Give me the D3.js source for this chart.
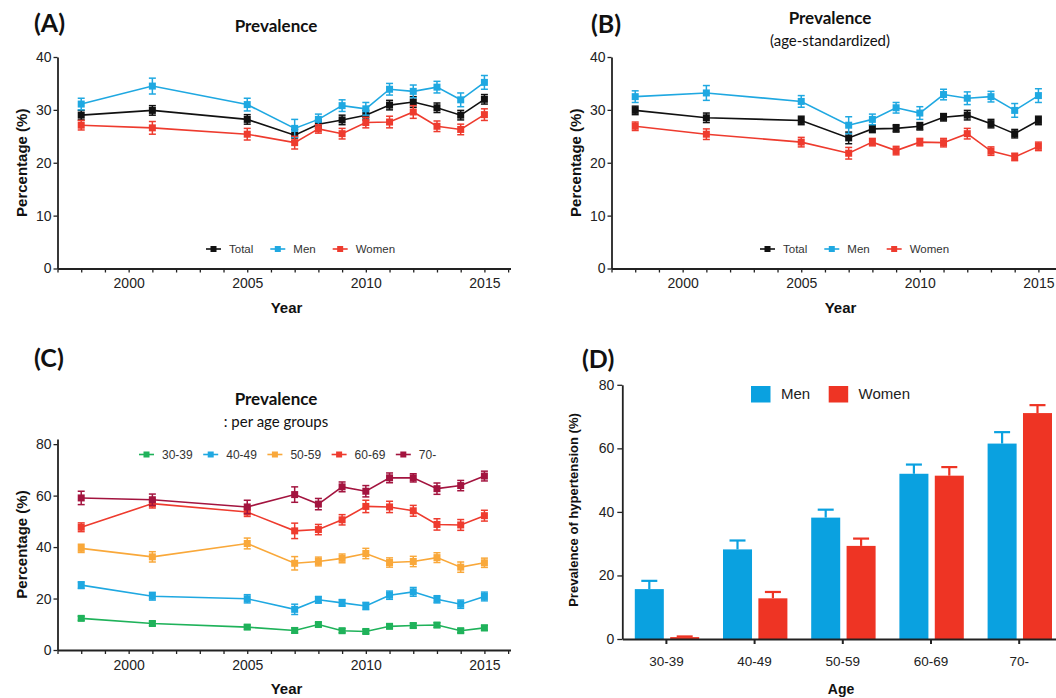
<!DOCTYPE html>
<html>
<head>
<meta charset="utf-8">
<script src="https://cdn.jsdelivr.net/npm/d3@7"></script>
<style>
body { margin: 0; background: #fff; }
</style>
</head>
<body>
<svg id="chart" width="1056" height="698"></svg>
<script>
// survey years
const years = [1998, 2001, 2005, 2007, 2008, 2009, 2010, 2011, 2012, 2013, 2014, 2015];

// (A) crude prevalence
const crudeTotal = [29.0, 29.9, 28.2, 25.2, 27.3, 28.1, 29.0, 30.9, 31.5, 30.4, 29.0, 32.0];
const crudeTotalErr = [0.9, 0.9, 0.9, 1.1, 0.8, 0.9, 0.9, 0.9, 1.0, 0.9, 0.9, 0.9];
const crudeMen = [31.1, 34.5, 31.0, 26.5, 28.2, 30.8, 30.2, 33.9, 33.5, 34.3, 31.9, 35.2];
const crudeMenErr = [1.1, 1.5, 1.2, 1.7, 1.0, 1.1, 1.2, 1.1, 1.2, 1.1, 1.3, 1.3];
const crudeWomen = [27.1, 26.6, 25.4, 23.8, 26.4, 25.5, 27.6, 27.7, 29.6, 26.9, 26.3, 29.1];
const crudeWomenErr = [0.9, 1.2, 1.1, 1.2, 0.8, 1.0, 1.0, 1.1, 1.2, 1.0, 1.0, 1.1];

// (B) age-standardized prevalence
const stdTotal = [29.9, 28.5, 28.0, 24.7, 26.4, 26.5, 26.9, 28.6, 29.0, 27.4, 25.5, 28.0];
const stdTotalErr = [0.8, 0.9, 0.8, 1.1, 0.7, 0.7, 0.7, 0.7, 0.9, 0.8, 0.8, 0.8];
const stdMen = [32.5, 33.2, 31.6, 27.1, 28.2, 30.4, 29.4, 32.9, 32.2, 32.5, 29.9, 32.7];
const stdMenErr = [1.1, 1.4, 1.1, 1.6, 1.0, 1.0, 1.2, 1.0, 1.2, 1.0, 1.3, 1.3];
const stdWomen = [26.9, 25.4, 23.9, 21.8, 23.9, 22.3, 23.9, 23.8, 25.5, 22.2, 21.1, 23.1];
const stdWomenErr = [0.8, 1.0, 0.9, 1.1, 0.7, 0.8, 0.7, 0.8, 1.0, 0.8, 0.7, 0.8];

// (C) prevalence per age group
const ageGroups = ["30-39", "40-49", "50-59", "60-69", "70-"];
const age30 = [12.3, 10.3, 8.9, 7.6, 9.9, 7.5, 7.2, 9.2, 9.5, 9.7, 7.5, 8.6];
const age30Err = [0.8, 0.8, 0.8, 1.0, 0.8, 0.8, 0.8, 0.8, 0.9, 0.9, 0.8, 1.0];
const age40 = [25.2, 20.9, 19.9, 15.8, 19.5, 18.3, 17.1, 21.3, 22.6, 19.7, 17.8, 20.8];
const age40Err = [1.3, 1.5, 1.6, 2.0, 1.3, 1.3, 1.4, 1.6, 1.7, 1.4, 1.6, 1.7];
const age50 = [39.5, 36.2, 41.4, 33.7, 34.4, 35.6, 37.5, 34.0, 34.4, 35.9, 32.2, 33.9];
const age50Err = [1.6, 2.0, 2.1, 2.6, 1.7, 1.7, 2.0, 1.8, 2.0, 1.9, 2.0, 1.8];
const age60 = [47.7, 56.9, 53.6, 46.3, 46.8, 50.6, 55.8, 55.6, 54.1, 48.8, 48.6, 52.2];
const age60Err = [1.7, 1.7, 1.7, 3.0, 2.0, 2.0, 2.4, 2.2, 2.1, 2.2, 2.1, 2.1];
const age70 = [59.1, 58.4, 55.6, 60.4, 56.7, 63.4, 61.7, 66.9, 66.9, 62.7, 63.9, 67.6];
const age70Err = [2.6, 2.2, 2.6, 3.0, 2.2, 1.9, 2.2, 1.9, 1.6, 2.2, 2.0, 1.9];

// (D) prevalence of hypertension by age and sex
const barMen = [15.7, 28.2, 38.2, 52.0, 61.5];
const barMenErr = [2.6, 2.8, 2.5, 2.9, 3.6];
const barWomen = [0.6, 12.8, 29.3, 51.4, 71.1];
const barWomenErr = [0.2, 2.0, 2.3, 2.7, 2.5];

const BLACK = "#111", BLUE = "#1fa8e1", RED = "#ee3b2e";
const SANS = "'Liberation Sans', Arial, Helvetica, sans-serif";
const TITLE = "Lato, 'Open Sans', sans-serif";
const svg = d3.select("#chart");

function fixText(sel, size) {
    sel.style("font-family", SANS).attr("font-size", size).attr("fill", "#222");
}

function yearAxis(g, x, yPos) {
    const ax = d3.axisBottom(x)
        .tickValues(d3.range(1997, 2017))
        .tickFormat(d => d % 5 === 0 ? d : "")
        .tickSize(4).tickSizeOuter(0).tickPadding(6);
    const a = g.append("g").attr("transform", "translate(0," + yPos + ")").call(ax);
    a.select(".domain").attr("stroke", "#222").attr("stroke-width", 1.8);
    a.selectAll(".tick line").attr("stroke", "#222").attr("stroke-width", 1.3);
    fixText(a.selectAll("text"), 14);
    return a;
}

function valueAxis(g, y, xPos, ticks) {
    const ax = d3.axisLeft(y).tickValues(ticks).tickSize(4).tickSizeOuter(0).tickPadding(2);
    const a = g.append("g").attr("transform", "translate(" + xPos + ",0)").call(ax);
    a.select(".domain").attr("stroke", "#222").attr("stroke-width", 1.8);
    a.selectAll(".tick line").attr("stroke", "#222").attr("stroke-width", 1.3);
    fixText(a.selectAll("text"), 14);
    return a;
}

function drawSeries(g, x, y, s) {
    const pts = years.map((yr, i) => ({ yr: yr, v: s.values[i], e: s.errs[i] }));
    const line = d3.line().x(d => x(d.yr)).y(d => y(d.v));
    g.append("path").datum(pts)
        .attr("fill", "none").attr("stroke", s.color).attr("stroke-width", 1.6)
        .attr("d", line);
    const eb = g.append("g").selectAll("g").data(pts).enter().append("g")
        .attr("stroke", s.color).attr("stroke-width", 1.5);
    eb.append("line")
        .attr("x1", d => x(d.yr)).attr("x2", d => x(d.yr))
        .attr("y1", d => y(d.v - d.e)).attr("y2", d => y(d.v + d.e));
    eb.append("line")
        .attr("x1", d => x(d.yr) - 3.5).attr("x2", d => x(d.yr) + 3.5)
        .attr("y1", d => y(d.v + d.e)).attr("y2", d => y(d.v + d.e));
    eb.append("line")
        .attr("x1", d => x(d.yr) - 3.5).attr("x2", d => x(d.yr) + 3.5)
        .attr("y1", d => y(d.v - d.e)).attr("y2", d => y(d.v - d.e));
    g.append("g").selectAll("rect").data(pts).enter().append("rect")
        .attr("x", d => x(d.yr) - 3.5).attr("y", d => y(d.v) - 3.5)
        .attr("width", 7).attr("height", 7)
        .attr("fill", s.color);
}

function drawLegend(g, items, x0, yPos, fontSize, gap) {
    let cx = x0;
    items.forEach(s => {
        g.append("line")
            .attr("x1", cx).attr("x2", cx + 15).attr("y1", yPos).attr("y2", yPos)
            .attr("stroke", s.color).attr("stroke-width", 1.6);
        g.append("rect")
            .attr("x", cx + 4.5).attr("y", yPos - 3).attr("width", 6).attr("height", 6)
            .attr("fill", s.color);
        const t = g.append("text")
            .attr("x", cx + 23).attr("y", yPos).attr("dy", "0.35em")
            .style("font-family", SANS)
            .attr("font-size", fontSize).attr("fill", "#333")
            .text(s.name);
        cx = cx + 23 + t.node().getComputedTextLength() + gap;
    });
}

function axisTitle(g, txt, size) {
    return g.append("text")
        .style("font-family", SANS).attr("font-weight", "bold")
        .attr("text-anchor", "middle").attr("font-size", size).attr("fill", "#111")
        .text(txt);
}

function linePanel(cfg) {
    const g = svg.append("g");
    const x = d3.scaleLinear().domain([1997, 2016.1]).range([cfg.left, cfg.left + 453]);
    const y = d3.scaleLinear().domain(cfg.yDomain).range(cfg.yRange);
    valueAxis(g, y, cfg.left, cfg.yTicks);
    yearAxis(g, x, cfg.yRange[0]);
    cfg.series.forEach(s => drawSeries(g, x, y, s));
    drawLegend(g, cfg.series, cfg.legendX, cfg.legendY, cfg.legendFont, cfg.legendGap);

    axisTitle(g, "Percentage (%)", 15)
        .attr("transform", "translate(" + (cfg.left - 31) + "," + ((cfg.yRange[0] + cfg.yRange[1]) / 2) + ") rotate(-90)");
    axisTitle(g, "Year", 15)
        .attr("x", cfg.left + 229).attr("y", cfg.yRange[0] + 44);
    return g;
}

// ---- (A)
linePanel({
    left: 57.5, yDomain: [0, 40], yRange: [268.5, 57], yTicks: [0, 10, 20, 30, 40],
    legendX: 206, legendY: 249, legendFont: 11.5, legendGap: 17,
    series: [
        { name: "Total", values: crudeTotal, errs: crudeTotalErr, color: BLACK },
        { name: "Men", values: crudeMen, errs: crudeMenErr, color: BLUE },
        { name: "Women", values: crudeWomen, errs: crudeWomenErr, color: RED }
    ]
});

// ---- (B)
linePanel({
    left: 611.5, yDomain: [0, 40], yRange: [268.5, 57], yTicks: [0, 10, 20, 30, 40],
    legendX: 760, legendY: 249, legendFont: 11.5, legendGap: 17,
    series: [
        { name: "Total", values: stdTotal, errs: stdTotalErr, color: BLACK },
        { name: "Men", values: stdMen, errs: stdMenErr, color: BLUE },
        { name: "Women", values: stdWomen, errs: stdWomenErr, color: RED }
    ]
});

// ---- (C)
linePanel({
    left: 57.5, yDomain: [0, 82], yRange: [650, 439], yTicks: [0, 20, 40, 60, 80],
    legendX: 139, legendY: 454.5, legendFont: 12, legendGap: 10.5,
    series: [
        { name: ageGroups[0], values: age30, errs: age30Err, color: "#1fb25a" },
        { name: ageGroups[1], values: age40, errs: age40Err, color: BLUE },
        { name: ageGroups[2], values: age50, errs: age50Err, color: "#f9a83a" },
        { name: ageGroups[3], values: age60, errs: age60Err, color: RED },
        { name: ageGroups[4], values: age70, errs: age70Err, color: "#a3143f" }
    ]
});

// ---- (D) bars
(function () {
    const g = svg.append("g");
    const left = 622.3, bottom = 639;
    const x = d3.scaleBand().domain(ageGroups).range([left, left + 5 * 88.2]);
    const sex = d3.scaleBand().domain(["Men", "Women"]).range([-31.6, 32.8]).paddingInner(0.18);
    const y = d3.scaleLinear().domain([0, 80]).range([bottom, 384.8]);
    const barColor = { Men: "#0aa1e0", Women: "#ee3424" };

    const rows = [];
    ageGroups.forEach((a, i) => {
        rows.push({ age: a, sex: "Men", v: barMen[i], e: barMenErr[i] });
        rows.push({ age: a, sex: "Women", v: barWomen[i], e: barWomenErr[i] });
    });
    const cx = d => x(d.age) + x.bandwidth() / 2 + sex(d.sex);

    const eb = g.append("g").selectAll("g").data(rows).enter().append("g")
        .attr("stroke", d => barColor[d.sex]).attr("stroke-width", 2.2);
    eb.append("line")
        .attr("x1", d => cx(d) + sex.bandwidth() / 2).attr("x2", d => cx(d) + sex.bandwidth() / 2)
        .attr("y1", d => y(d.v)).attr("y2", d => y(d.v + d.e));
    eb.append("line")
        .attr("x1", d => cx(d) + sex.bandwidth() / 2 - 8).attr("x2", d => cx(d) + sex.bandwidth() / 2 + 8)
        .attr("y1", d => y(d.v + d.e)).attr("y2", d => y(d.v + d.e));

    g.append("g").selectAll("rect").data(rows).enter().append("rect")
        .attr("x", d => cx(d)).attr("width", sex.bandwidth())
        .attr("y", d => y(d.v)).attr("height", d => bottom - y(d.v))
        .attr("fill", d => barColor[d.sex]);

    const ya = d3.axisLeft(y).tickValues([0, 20, 40, 60, 80]).tickSize(5).tickSizeOuter(0).tickPadding(3);
    const ay = g.append("g").attr("transform", "translate(" + left + ",0)").call(ya);
    ay.select(".domain").attr("stroke", "#222").attr("stroke-width", 1.8);
    ay.selectAll(".tick line").attr("stroke", "#222").attr("stroke-width", 1.3);
    fixText(ay.selectAll("text"), 14);

    const xa = d3.axisBottom(x).tickSize(5).tickSizeOuter(0).tickPadding(12);
    const ax = g.append("g").attr("transform", "translate(0," + bottom + ")").call(xa);
    ax.select(".domain").attr("stroke", "#222").attr("stroke-width", 1.8);
    ax.selectAll(".tick line").attr("stroke", "#222").attr("stroke-width", 2);
    fixText(ax.selectAll("text"), 13.5);

    // legend
    const leg = [["Men", 751, 781], ["Women", 828.7, 858.6]];
    leg.forEach(l => {
        g.append("rect").attr("x", l[1]).attr("y", 386).attr("width", 19.5).attr("height", 16.5)
            .attr("fill", barColor[l[0]]);
        g.append("text").attr("x", l[2]).attr("y", 394).attr("dy", "0.35em")
            .style("font-family", SANS)
            .attr("font-size", 15).attr("fill", "#222").text(l[0]);
    });

    axisTitle(g, "Prevalence of hypertension (%)", 13)
        .attr("transform", "translate(573.5,510) rotate(-90)").attr("dy", "0.35em");
    axisTitle(g, "Age", 14).attr("x", 841).attr("y", 694);
})();

// ---- titles and panel letters
const titles = [
    { t: "(A)", x: 34, y: 32, size: 25, anchor: "start", bold: true },
    { t: "(B)", x: 591, y: 33, size: 25, anchor: "start", bold: true },
    { t: "(C)", x: 34, y: 367, size: 25, anchor: "start", bold: true },
    { t: "(D)", x: 582, y: 368, size: 25, anchor: "start", bold: true },
    { t: "Prevalence", x: 276, y: 32, size: 17, anchor: "middle", bold: true },
    { t: "Prevalence", x: 830, y: 24, size: 17, anchor: "middle", bold: true },
    { t: "(age-standardized)", x: 830, y: 46, size: 15, anchor: "middle", bold: false },
    { t: "Prevalence", x: 276, y: 405, size: 17, anchor: "middle", bold: true },
    { t: ": per age groups", x: 276, y: 427, size: 15, anchor: "middle", bold: false }
];
svg.append("g").selectAll("text").data(titles).enter().append("text")
    .style("font-family", TITLE)
    .attr("font-weight", d => d.bold ? "bold" : "normal")
    .attr("fill", "#111")
    .attr("x", d => d.x).attr("y", d => d.y)
    .attr("text-anchor", d => d.anchor)
    .attr("font-size", d => d.size)
    .text(d => d.t);
</script>
</body>
</html>
